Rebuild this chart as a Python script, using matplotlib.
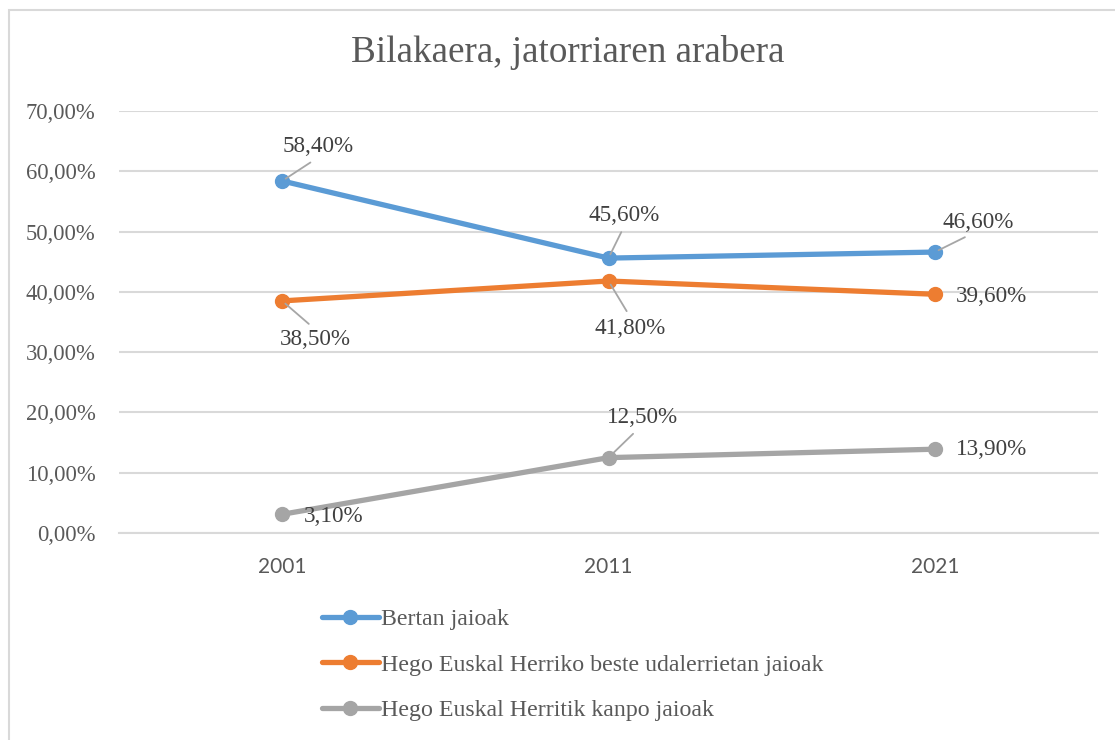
import matplotlib.pyplot as plt
from matplotlib.patches import Rectangle

years = ["2001", "2011", "2021"]
bertan = [58.4, 45.6, 46.6]
hego_beste = [38.5, 41.8, 39.6]
kanpo = [3.1, 12.5, 13.9]
series_names = ["Bertan jaioak",
                "Hego Euskal Herriko beste udalerrietan jaioak",
                "Hego Euskal Herritik kanpo jaioak"]
colors = ["#5b9bd5", "#ed7d31", "#a5a5a5"]

# label offsets in pixels (dx, dy) and leader relpos (None = no leader)
label_pos = [
    [((36, 34), (0.5, 0.0)), ((16, 43), (0.5, 0.0)), ((43, 30), (0.45, 0.0))],
    [((33, -39), (0.5, 1.0)), ((22, -47), (0.5, 1.0)), ((57, -2), None)],
    [((51, -2), None), ((34, 40), (0.45, 0.0)), ((57, 0), None)],
]

serif = "Liberation Serif"
txt = "#404040"

W, H = 1115, 740
fig = plt.figure(figsize=(W / 100, H / 100), dpi=100)
ax = fig.add_axes([119 / W, 1 - 533 / H, (1098 - 119) / W, (533 - 111) / H])

fig.patches.append(Rectangle((9 / W, -0.05), 1.2, 1.05 - 10 / H,
                             transform=fig.transFigure, fill=False,
                             edgecolor="#d9d9d9", linewidth=1.5))

x = list(range(len(years)))
for vals, name, c, pos in zip([bertan, hego_beste, kanpo], series_names, colors, label_pos):
    ax.plot(x, vals, color=c, linewidth=3.8, marker="o", markersize=10,
            label=name, solid_capstyle="round", zorder=3)
    for xi, v, (off, rel) in zip(x, vals, pos):
        s = ("%.2f%%" % v).replace(".", ",")
        ap = None
        if rel is not None:
            ap = dict(arrowstyle="-", color="#a6a6a6", lw=1.3, relpos=rel,
                      shrinkA=3, shrinkB=3)
        ax.annotate(s, (xi, v), xytext=off, textcoords="offset pixels",
                    ha="center", va="center", fontsize=16.7, family=serif,
                    color=txt, arrowprops=ap, zorder=4)

ax.set_xlim(-0.5, 2.5)
ax.set_ylim(0, 70)
ax.set_yticks(range(0, 71, 10))
ax.set_yticklabels([("%.2f%%" % v).replace(".", ",") for v in range(0, 71, 10)],
                   family=serif, fontsize=16.3, color="#595959")
ax.set_xticks(x)
ax.set_xticklabels(years, family="Lato", fontsize=15, color="#595959")
ax.tick_params(length=0)
ax.tick_params(axis="y", pad=17)
ax.tick_params(axis="x", pad=17)
ax.grid(axis="y", color="#d9d9d9", linewidth=1.5)
ax.set_axisbelow(True)
for sp in ["top", "right", "left"]:
    ax.spines[sp].set_visible(False)
ax.spines["bottom"].set_color("#d9d9d9")
ax.spines["bottom"].set_linewidth(1.5)

fig.text(568 / W, 1 - 53 / H, "Bilakaera, jatorriaren arabera", ha="center",
         va="center", fontsize=26.7, family=serif, color="#595959")

fig.legend(loc="upper left", bbox_to_anchor=(300 / W, 1 - 587 / H),
           frameon=False, prop=dict(family=serif, size=17.2),
           labelcolor="#595959", handlelength=2.4, handletextpad=0.1,
           labelspacing=1.0)

fig.savefig("out.png", dpi=100)
